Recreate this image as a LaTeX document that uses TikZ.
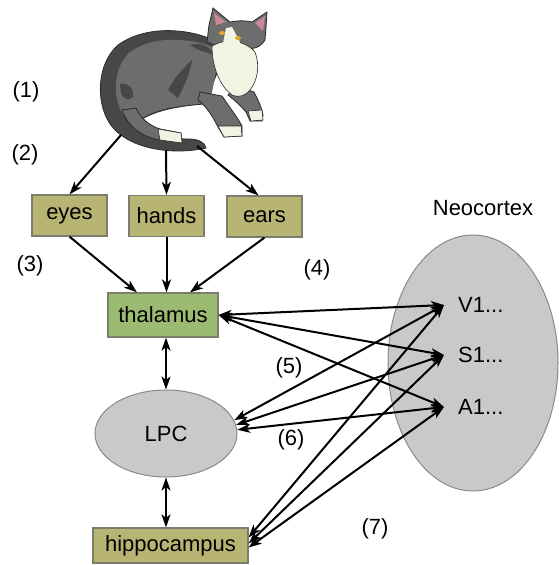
\documentclass[tikz,border=0pt]{standalone}
\usepackage{fontspec}
\setmainfont{Liberation Sans}
\usetikzlibrary{arrows.meta,shapes.geometric}
\definecolor{sensefill}{HTML}{B8B574}
\definecolor{thalfill}{HTML}{9CBB72}
\definecolor{boxedge}{HTML}{7D7D6E}
\definecolor{areafill}{HTML}{C9C9C9}
\definecolor{areaedge}{HTML}{8A8A8A}
\definecolor{catdark}{HTML}{474747}
\definecolor{catmid}{HTML}{6D6D6D}
\definecolor{catline}{HTML}{2B2B2B}
\definecolor{catwhite}{HTML}{F3F3E3}
\definecolor{cateye}{HTML}{E0A82A}
\definecolor{catpink}{HTML}{C98A98}
\begin{document}
\begin{tikzpicture}[x=1pt,y=-1pt,
  font=\fontsize{22}{26}\selectfont,
  every node/.style={inner sep=0pt},
  sense/.style={draw=boxedge, fill=sensefill, line width=1.2pt,
    minimum width=75pt, minimum height=41pt},
  relay/.style={draw=boxedge, fill=thalfill, line width=1.2pt,
    minimum width=110pt, minimum height=44pt},
  area/.style={draw=areaedge, fill=areafill, line width=1pt, ellipse},
  tag/.style={},
  tip/.style={},
  conn/.style={line width=2pt, -{Stealth[length=13pt,width=9pt,inset=3.5pt]}},
  biconn/.style={line width=2pt,
    {Stealth[length=13pt,width=9pt,inset=3.5pt]}-{Stealth[length=13pt,width=9pt,inset=3.5pt]}},
  catpart/.style={fill=catmid, draw=catline, line width=0.8pt},
  catpaw/.style={fill=catwhite, draw=catline, line width=0.6pt},
]
\useasboundingbox (0,0) rectangle (558,565);

% ---------- cat ----------
% dark outer silhouette: back curling into the tail
\filldraw[fill=catdark, draw=catline, line width=0.8pt]
  (222,45) .. controls (200,30) and (150,22) .. (118,45)
  .. controls (95,65) and (95,110) .. (115,130)
  .. controls (135,150) and (175,155) .. (206,148)
  .. controls (205,142) and (198,139) .. (188,139)
  .. controls (168,139) and (148,134) .. (138,122)
  .. controls (150,112) and (175,106) .. (205,104)
  -- (222,60) -- cycle;
% lighter body
\fill[catmid]
  (220,50) .. controls (195,38) and (155,34) .. (130,52)
  .. controls (114,66) and (112,95) .. (122,113)
  .. controls (128,122) and (136,124) .. (142,118)
  .. controls (158,108) and (180,105) .. (210,103) -- cycle;
\fill[catdark] (168,90) .. controls (175,76) and (184,68) .. (192,60)
  .. controls (190,74) and (184,86) .. (178,98) -- cycle;
\fill[catdark] (120,84) .. controls (128,82) and (134,88) .. (133,97)
  .. controls (129,101) and (123,99) .. (121,93) -- cycle;
\fill[catdark] (190,45) .. controls (200,42) and (210,46) .. (215,55)
  .. controls (205,52) and (197,50) .. (190,45) -- cycle;
% hind leg lying along the tail
\filldraw[catpart] (122,110) .. controls (128,128) and (145,138) .. (160,140)
  -- (182,143) -- (181,133) -- (160,129)
  .. controls (150,126) and (140,118) .. (136,108) -- cycle;
\filldraw[catpaw] (158,129) -- (181,133) -- (182,143) -- (160,140) -- cycle;
% front legs
\filldraw[catpart] (236,86) -- (254,92) .. controls (258,100) and (262,108) .. (263,115)
  -- (262,121) -- (250,121) -- (246,112)
  .. controls (240,105) and (232,98) .. (228,95) -- cycle;
\filldraw[catpaw] (248,111) -- (262,110) -- (263,120) -- (251,121) -- cycle;
\filldraw[catpart] (200,92) -- (222,96) .. controls (230,108) and (238,118) .. (242,126)
  -- (242,136) -- (224,137) -- (218,127)
  .. controls (212,115) and (205,105) .. (198,100) -- cycle;
\filldraw[catpaw] (218,126) -- (241,126) -- (242,136) -- (224,137) -- cycle;
% head and ears
\filldraw[catpart] (207,42) -- (209,25) -- (213,8) -- (230,22)
  .. controls (240,20) and (248,21) .. (252,22) -- (267,12) -- (266,28) -- (265,40)
  .. controls (260,48) and (252,50) .. (245,48)
  .. controls (235,48) and (220,48) .. (207,42) -- cycle;
\fill[catpink] (214,13) -- (216,25) -- (226,22) -- cycle;
\fill[catpink] (265,16) -- (255,23) -- (263,31) -- cycle;
% white chest and muzzle
\filldraw[catpaw] (212,46) .. controls (225,38) and (245,40) .. (255,52)
  .. controls (260,65) and (258,80) .. (250,90)
  .. controls (245,96) and (238,98) .. (232,95)
  .. controls (222,88) and (212,70) .. (212,46) -- cycle;
\fill[catwhite] (226,28) -- (232,27) -- (240,42) -- (236,50) -- (222,48) -- cycle;
\fill[cateye] (222,33) ellipse (3pt and 2pt);
\fill[cateye] (238,38) ellipse (3pt and 2pt);

\coordinate (catL) at (121,135);
\coordinate (catM) at (166,150);
\coordinate (catR) at (197,146);

% ---------- neocortex ----------
\node[area, minimum width=170pt, minimum height=256pt] (neo) at (473,363) {};
\node (neolabel) at (483,208) {Neocortex};
\node[anchor=west, inner xsep=14pt] (v1) at (444,305) {V1...};
\node[anchor=west, inner xsep=14pt] (s1) at (444,355) {S1...};
\node[anchor=west, inner xsep=14pt] (a1) at (444,407) {A1...};

% ---------- pathway boxes ----------
\node[sense] (eyes) at (69.5,215.5) {eyes};
\node[sense] (hands) at (166.5,216) {hands};
\node[sense] (ears) at (264.5,216.5) {ears};
\node[relay] (thal) at (163,315) {thalamus};
\node[area, minimum width=142pt, minimum height=87pt] (lpc) at (166,433.5) {LPC};
\node[sense, minimum width=155pt, minimum height=35pt] (hip) at (170.5,545.5) {hippocampus};

% ---------- step labels ----------
\node[tag] (t1) at (26,92) {(1)};
\node[tag] (t2) at (25,155) {(2)};
\node[tag] (t3) at (30,266) {(3)};
\node[tag] (t4) at (317,270) {(4)};
\node[tag] (t5) at (289,368) {(5)};
\node[tag] (t6) at (291,440) {(6)};
\node[tag] (t7) at (375,529) {(7)};

% ---------- connections ----------
\draw[conn] (catL) -- (eyes.north);
\draw[conn] (catM) -- (hands.north);
\draw[conn] (catR) -- ([xshift=-6pt]ears.north);
\draw[conn] (eyes.south) -- ([xshift=-26pt]thal.north);
\draw[conn] (hands.south) -- (hands.south |- thal.north);
\draw[conn] (ears.south) -- ([xshift=27pt]thal.north);

\draw[biconn] (thal.east) -- (v1.west);
\draw[biconn] (thal.east) -- (s1.west);
\draw[biconn] (thal.east) -- (a1.west);

\draw[biconn] (lpc.11) -- (v1.west);
\draw[biconn] (lpc.7) -- (s1.west);
\draw[biconn] (lpc.3) -- (a1.west);

\draw[biconn] ([yshift=8pt]hip.east) -- (v1.west);
\draw[biconn] ([yshift=2pt]hip.east) -- (s1.west);
\draw[biconn] ([yshift=-2pt]hip.east) -- (a1.west);

\draw[biconn] (lpc.north) -- (lpc.north |- thal.south);
\draw[biconn] (lpc.south) -- (lpc.south |- hip.north);
\end{tikzpicture}
\end{document}
